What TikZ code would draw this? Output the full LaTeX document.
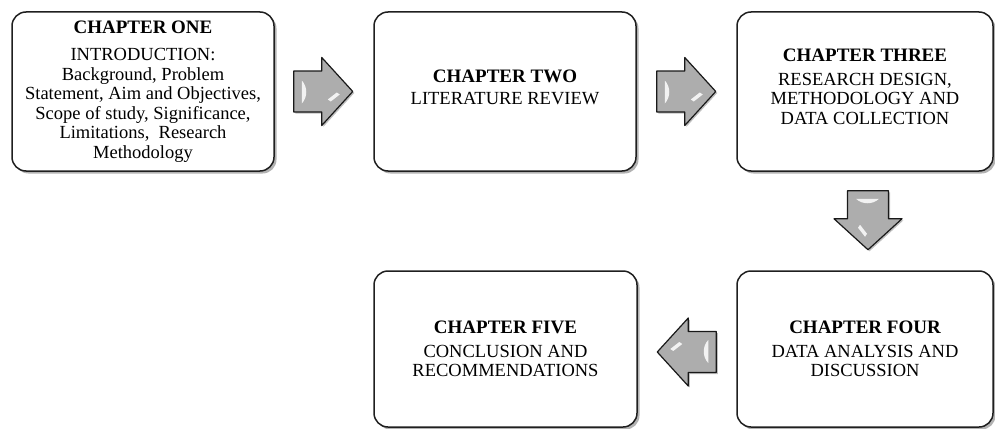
\documentclass[tikz,border=0pt]{standalone}
\usepackage{fontspec}
\setmainfont{Liberation Serif}
\newfontfamily\bodyf{Liberation Serif}
\usetikzlibrary{calc,shadows}
\newcommand\chhead[2]{{\fontsize{19}{19.5}\rmfamily\bfseries #1}\\[#2]}
\begin{document}
\begin{tikzpicture}[x=1pt,y=-1pt,
  box/.style={draw=black!88, line width=1.5pt, rounded corners=14pt, fill=white,
    align=center, inner sep=0pt, font=\bodyf\fontsize{18.5}{19.5}\selectfont,
    drop shadow={shadow xshift=2.5pt, shadow yshift=-2.5pt, opacity=0.3, fill=black}},
  barrow/.style={draw=black!90, line width=1.2pt, line join=round, fill=black!32,
    drop shadow={shadow xshift=1.5pt, shadow yshift=-1.5pt, opacity=0.25, fill=black}},
  hl/.style={fill=white, draw=none, opacity=0.85},
  pics/barr/.style={code={
    \draw[barrow] (0,-20.5) -- (28,-20.5) -- (28,-34) -- (59,0) -- (28,34) -- (28,20.5) -- (0,20.5) -- cycle;
    \fill[hl] (8,-11) -- (8,12) .. controls (14,6) and (14,-5) .. (8,-11) -- cycle;
    \fill[hl] (34,8) -- (43,1) -- (46,3) -- (37,10) -- cycle;
  }}]
\useasboundingbox (0,0) rectangle (995,428);

\node[box, minimum width=262pt, minimum height=159pt] (c1) at (143,91.5)
  {\chhead{CHAPTER ONE}{8pt}INTRODUCTION:\\ Background, Problem\\ Statement, Aim and Objectives,\\ Scope of study, Significance,\\ Limitations,\ \ Research\\ Methodology};
\node[box, minimum width=262pt, minimum height=159pt] (c2) at (505,91.5)
  {\chhead{CHAPTER TWO}{3pt}LITERATURE REVIEW\\[-11pt]};
\node[box, minimum width=256pt, minimum height=159pt] (c3) at (865,91.5)
  {\chhead{CHAPTER THREE}{4pt}RESEARCH DESIGN,\\ METHODOLOGY AND\\ DATA COLLECTION\\[-10pt]};
\node[box, minimum width=256pt, minimum height=156pt] (c4) at (865,349)
  {\chhead{CHAPTER FOUR}{4pt}DATA ANALYSIS AND\\ DISCUSSION};
\node[box, minimum width=263pt, minimum height=156pt] (c5) at (505.5,349)
  {\chhead{CHAPTER FIVE}{4pt}CONCLUSION AND\\ RECOMMENDATIONS};

\coordinate (a1) at ($(c1.east)+(19,0)$);
\coordinate (a2) at ($(c2.east)+(20,0)$);
\coordinate (a3) at ($(c3.south)+(3,19)$);
\coordinate (a4) at ($(c4.west)+(-20,3)$);
\pic[shift={(a1)}] {barr};
\pic[shift={(a2)}] {barr};
\pic[shift={(a3)}, rotate=-90] {barr};
\pic[shift={(a4)}, rotate=180] {barr};
\end{tikzpicture}
\end{document}
